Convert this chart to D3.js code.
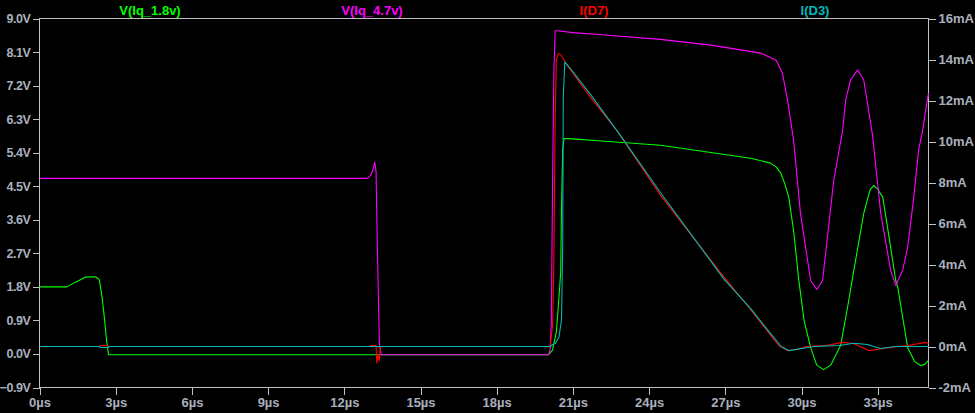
<!DOCTYPE html>
<html>
<head>
<meta charset="utf-8">
<script src="https://cdn.jsdelivr.net/npm/d3@7"></script>
<style>
  html, body { margin: 0; padding: 0; background: #000; }
  svg { display: block; }
  text { font-family: "Liberation Sans", Arial, sans-serif; font-weight: bold; font-size: 13px; }
</style>
</head>
<body>
<svg id="chart" width="975" height="413"></svg>
<script>
// ---- tick labels ----
const xTicks = [0, 3, 6, 9, 12, 15, 18, 21, 24, 27, 30, 33];
const vTicks = [-0.9, 0.0, 0.9, 1.8, 2.7, 3.6, 4.5, 5.4, 6.3, 7.2, 8.1, 9.0];
const iTicks = [-2, 0, 2, 4, 6, 8, 10, 12, 14, 16];

// ---- series names ----
const seriesNames = ["V(Iq_1.8v)", "V(Iq_4.7v)", "I(D7)", "I(D3)"];

// ---- V(Iq_1.8v) [V] ----
const g_t = [0, 1.08, 1.4, 1.8, 2.2, 2.35, 2.45, 2.55, 2.65, 2.72, 20.04, 20.2, 20.35, 20.45, 20.52, 20.55, 20.6, 20.65, 21.0, 22.0, 24.45, 26.5, 28.0, 28.78, 29.0, 29.18, 29.35, 29.5, 29.69, 29.89, 30.1, 30.36, 30.6, 30.87, 31.15, 31.54, 31.8, 32.05, 32.45, 32.7, 32.84, 33.0, 33.2, 33.51, 33.71, 33.79, 34.18, 34.45, 34.69, 34.85, 35.0];
const g_v = [1.8, 1.8, 1.92, 2.06, 2.07, 2.0, 1.6, 1.0, 0.3, -0.02, -0.02, 0.1, 0.6, 1.5, 2.2, 3.9, 5.5, 5.78, 5.77, 5.72, 5.6, 5.4, 5.25, 5.12, 5.02, 4.86, 4.55, 4.2, 3.3, 2.0, 0.9, 0.17, -0.3, -0.42, -0.3, 0.23, 1.2, 2.2, 3.77, 4.4, 4.52, 4.42, 4.2, 2.86, 1.97, 1.79, 0.17, -0.2, -0.31, -0.28, -0.17];

// ---- V(Iq_4.7v) [V] ----
const m_t = [0, 12.9, 13.05, 13.15, 13.2, 13.25, 13.3, 13.38, 13.45, 20.04, 20.1, 20.15, 20.2, 20.25, 20.3, 20.4, 21.0, 22.0, 24.45, 26.5, 28.4, 29.0, 29.25, 29.45, 29.69, 29.96, 30.36, 30.6, 30.83, 31.27, 31.62, 31.74, 31.93, 32.21, 32.45, 32.64, 32.8, 33.12, 33.51, 33.71, 33.98, 34.18, 34.42, 34.61, 34.77, 34.89, 35.0];
const m_v = [4.71, 4.71, 4.8, 5.0, 5.15, 4.9, 2.9, 0.3, -0.02, -0.02, 0.1, 0.8, 4.6, 7.5, 8.67, 8.67, 8.62, 8.57, 8.44, 8.28, 8.07, 7.88, 7.53, 6.81, 5.73, 3.77, 1.97, 1.73, 1.97, 4.66, 6.0, 6.81, 7.35, 7.62, 7.35, 6.54, 5.85, 3.77, 2.24, 1.84, 2.24, 2.86, 4.2, 5.47, 6.0, 6.54, 7.0];

// ---- I(D7) [mA] ----
const r_t = [0, 2.35, 2.4, 2.65, 2.7, 13.0, 13.05, 13.25, 13.28, 13.33, 13.38, 13.42, 20.1, 20.2, 20.25, 20.3, 20.35, 20.43, 20.55, 20.7, 21.69, 22.75, 24.45, 26.0, 26.94, 28.0, 28.75, 29.1, 29.45, 29.8, 30.2, 31.0, 31.6, 32.05, 32.65, 33.4, 34.18, 34.9, 35.0];
const r_i = [0, 0, 0.05, 0.05, 0, 0, 0.05, 0.05, -0.8, -0.4, -0.7, 0, 0, 1.0, 4.0, 11.0, 14.0, 14.3, 14.2, 13.85, 12.15, 10.5, 7.37, 4.9, 3.4, 1.8, 0.6, 0.05, -0.2, -0.15, 0, 0.05, 0.2, 0.15, -0.2, -0.06, 0.05, 0.2, 0.15];

// ---- I(D3) [mA] ----
const c_t = [0, 2.35, 2.4, 2.7, 2.75, 20.1, 20.2, 20.3, 20.45, 20.55, 20.6, 20.62, 20.68, 20.9, 21.69, 22.87, 24.45, 26.94, 28.0, 28.8, 29.2, 29.5, 30.5, 31.5, 32.05, 32.6, 33.1, 33.7, 35.0];
const c_i = [0, 0, -0.05, -0.05, 0, 0, 0.1, 0.15, 0.44, 1.3, 5.0, 12.1, 13.87, 13.56, 12.3, 10.3, 7.5, 3.3, 1.85, 0.6, 0.0, -0.2, 0, 0.05, 0.16, 0.1, -0.1, 0, 0];

const seriesColors = ["#00ff00", "#ff00ff", "#ff0000", "#00b8b8"];

// ---- layout ----
const W = 975, H = 413;
const L = 39.5, R = 928.5, T = 18.5, B = 387.5;

const svg = d3.select("#chart");
svg.append("rect").attr("width", W).attr("height", H).attr("fill", "#000");

const x = d3.scaleLinear().domain([0, 35]).range([L, R]);
const yV = d3.scaleLinear().domain([-0.9, 9.0]).range([B, T]);
const yI = d3.scaleLinear().domain([-2, 16]).range([B, T]);

const axisColor = "#c0c0c0";
const textColor = "#a9b0bc";

function styleAxis(g) {
  g.select(".domain").remove();
  g.selectAll(".tick line").attr("stroke", axisColor).attr("shape-rendering", "crispEdges");
  g.selectAll(".tick text").attr("fill", textColor)
    .style("font-family", '"Liberation Sans", Arial, sans-serif')
    .style("font-weight", "bold").style("font-size", "13px");
}

svg.append("g").attr("transform", `translate(${L},0)`)
  .call(d3.axisLeft(yV).tickValues(vTicks).tickSize(7).tickPadding(2)
    .tickFormat(d => d3.format(".1f")(d) + "V"))
  .call(styleAxis)
  .call(g => g.selectAll(".tick text").style("font-size", "12.5px").style("letter-spacing", "-0.4px"));

svg.append("g").attr("transform", `translate(${R},0)`)
  .call(d3.axisRight(yI).tickValues(iTicks).tickSize(7).tickPadding(3)
    .tickFormat(d => d + "mA"))
  .call(styleAxis);

svg.append("g").attr("transform", `translate(0,${B})`)
  .call(d3.axisBottom(x).tickValues(xTicks).tickSize(7).tickPadding(3)
    .tickFormat(d => d + "µs"))
  .call(styleAxis);

// frame
svg.append("rect")
  .attr("x", L).attr("y", T).attr("width", R - L).attr("height", B - T)
  .attr("fill", "none").attr("stroke", axisColor).attr("stroke-width", 1)
  .attr("shape-rendering", "crispEdges");

// traces
const lineV = d3.line().x(d => x(d[0])).y(d => yV(d[1]));
const lineI = d3.line().x(d => x(d[0])).y(d => yI(d[1]));

const traces = [
  { pts: d3.zip(g_t, g_v), line: lineV },
  { pts: d3.zip(m_t, m_v), line: lineV },
  { pts: d3.zip(r_t, r_i), line: lineI },
  { pts: d3.zip(c_t, c_i), line: lineI }
];

svg.append("clipPath").attr("id", "plotclip")
  .append("rect").attr("x", L).attr("y", T).attr("width", R - L + 0.5).attr("height", B - T);

const plot = svg.append("g").attr("clip-path", "url(#plotclip)");
traces.forEach((tr, i) => {
  plot.append("path")
    .attr("d", tr.line(tr.pts))
    .attr("fill", "none")
    .attr("stroke", seriesColors[i])
    .attr("stroke-width", 1.1)
    .attr("stroke-linejoin", "round");
});

// titles
const titleX = [150, 372, 594, 815];
seriesNames.forEach((n, i) => {
  svg.append("text")
    .attr("x", titleX[i]).attr("y", 10)
    .attr("dy", "0.35em")
    .attr("text-anchor", "middle")
    .attr("fill", seriesColors[i])
    .text(n);
});
</script>
</body>
</html>
